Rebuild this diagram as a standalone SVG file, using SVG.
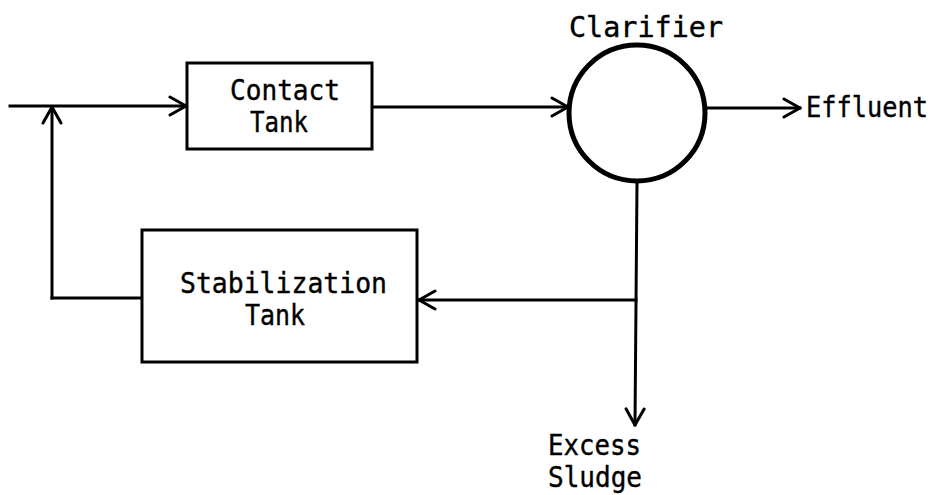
<svg xmlns="http://www.w3.org/2000/svg" width="940" height="495" viewBox="0 0 940 495">
<style>
text{font-family:"DejaVu Sans Mono","Liberation Mono",monospace;font-size:28px;fill:#000;stroke:#000;stroke-width:0.4}
.box{fill:#fff;stroke:#000;stroke-width:3}
.ln{fill:none;stroke:#000;stroke-width:3;stroke-linecap:square}
</style>
<defs>
<marker id="ah" viewBox="-20 -12 22 24" refX="0" refY="0" markerWidth="22" markerHeight="24" markerUnits="userSpaceOnUse" orient="auto">
<path d="M-16,-9 L0,0 L-16,9" fill="none" stroke="#000" stroke-width="3" stroke-linejoin="round" stroke-linecap="round"/>
</marker>
</defs>
<rect width="940" height="495" fill="#fff"/>
<g id="connectors">
<path class="ln" d="M10,106 L186,106" marker-end="url(#ah)"/>
<path class="ln" d="M52,298 L52,107" marker-end="url(#ah)"/>
<path class="ln" d="M142,298 L52,298"/>
<path class="ln" d="M372,107 L568,107" marker-end="url(#ah)"/>
<path class="ln" d="M706,108 L800,108" marker-end="url(#ah)"/>
<path class="ln" d="M637,183 L635,425" marker-end="url(#ah)"/>
<path class="ln" d="M636,300 L419,300" marker-end="url(#ah)"/>
</g>
<g id="contact-tank">
<rect class="box" x="187" y="63" width="185" height="86"/>
<text x="230" y="100" textLength="110" lengthAdjust="spacingAndGlyphs">Contact</text>
<text x="250" y="132" textLength="58" lengthAdjust="spacingAndGlyphs">Tank</text>
</g>
<g id="clarifier">
<circle cx="637" cy="113" r="68" fill="#fff" stroke="#000" stroke-width="5"/>
<text x="569" y="37" textLength="154" lengthAdjust="spacingAndGlyphs">Clarifier</text>
</g>
<g id="stabilization-tank">
<rect class="box" x="142" y="230" width="275" height="132"/>
<text x="180" y="293" textLength="207" lengthAdjust="spacingAndGlyphs">Stabilization</text>
<text x="245" y="325" textLength="60" lengthAdjust="spacingAndGlyphs">Tank</text>
</g>
<g id="effluent">
<text x="806" y="117" textLength="122" lengthAdjust="spacingAndGlyphs">Effluent</text>
</g>
<g id="excess-sludge">
<text x="548" y="455" textLength="93" lengthAdjust="spacingAndGlyphs">Excess</text>
<text x="548" y="487" textLength="94" lengthAdjust="spacingAndGlyphs">Sludge</text>
</g>
</svg>
